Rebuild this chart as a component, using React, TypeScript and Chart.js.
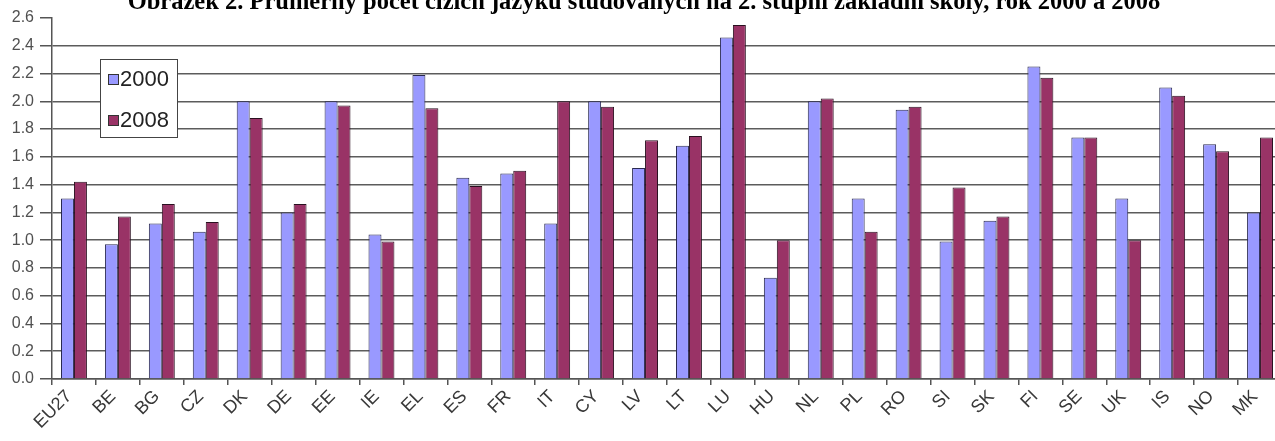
import React, { useEffect, useRef } from 'react';
import { Chart, registerables } from 'chart.js';

Chart.register(...registerables);

const titleText = 'Obrázek 2. Průměrný počet cizích jazyků studovaných na 2. stupni základní školy, rok 2000 a 2008';

const categories = ['EU27', 'BE', 'BG', 'CZ', 'DK', 'DE', 'EE', 'IE', 'EL', 'ES', 'FR', 'IT', 'CY', 'LV', 'LT', 'LU', 'HU', 'NL', 'PL', 'RO', 'SI', 'SK', 'FI', 'SE', 'UK', 'IS', 'NO', 'MK'];

const values2000 = [1.30, 0.97, 1.12, 1.06, 2.00, 1.20, 2.00, 1.04, 2.19, 1.45, 1.48, 1.12, 2.00, 1.52, 1.68, 2.46, 0.73, 2.00, 1.30, 1.94, 0.99, 1.14, 2.25, 1.74, 1.30, 2.10, 1.69, 1.20];
const values2008 = [1.42, 1.17, 1.26, 1.13, 1.88, 1.26, 1.97, 0.99, 1.95, 1.39, 1.50, 2.00, 1.96, 1.72, 1.75, 2.55, 1.00, 2.02, 1.06, 1.96, 1.38, 1.17, 2.17, 1.74, 1.00, 2.04, 1.64, 1.74];

const seriesLabels = ['2000', '2008'];
const yMin = 0;
const yMax = 2.6;
const yStep = 0.2;

const cutTitlePlugin = {
  id: 'cutTitle',
  afterDraw(chart: any, _args: any, opts: any) {
    const ctx = chart.ctx;
    ctx.save();
    ctx.font = opts.font;
    ctx.fillStyle = opts.color;
    ctx.textAlign = 'center';
    ctx.textBaseline = 'alphabetic';
    ctx.fillText(opts.text, opts.centerX, opts.baseline);
    ctx.restore();
  },
};

const boxLegendPlugin = {
  id: 'boxLegend',
  afterDraw(chart: any, _args: any, opts: any) {
    const ctx = chart.ctx;
    const area = chart.chartArea;
    const x0 = area.left + opts.offsetX;
    const y0 = area.top + opts.offsetY;
    ctx.save();
    ctx.fillStyle = '#ffffff';
    ctx.fillRect(x0, y0, opts.width, opts.height);
    ctx.strokeStyle = '#444444';
    ctx.lineWidth = 1;
    ctx.strokeRect(x0 + 0.5, y0 + 0.5, opts.width, opts.height);
    ctx.font = opts.font;
    ctx.textAlign = 'left';
    ctx.textBaseline = 'middle';
    chart.data.datasets.forEach((ds: any, i: number) => {
      const cy = y0 + opts.firstRow + i * opts.rowGap;
      const sx = x0 + opts.swatchX;
      ctx.fillStyle = ds.backgroundColor;
      ctx.fillRect(sx, cy - opts.swatch / 2, opts.swatch, opts.swatch);
      ctx.strokeStyle = '#333333';
      ctx.strokeRect(sx + 0.5, cy - opts.swatch / 2 + 0.5, opts.swatch, opts.swatch);
      ctx.fillStyle = '#222222';
      ctx.fillText(ds.label, sx + opts.swatch + 2, cy + 1);
    });
    ctx.restore();
  },
};

export default function App() {
  const canvasRef = useRef<HTMLCanvasElement | null>(null);

  useEffect(() => {
    const canvas = canvasRef.current;
    if (!canvas) return;
    const chart = new Chart(canvas, {
      type: 'bar',
      data: {
        labels: categories,
        datasets: [
          {
            label: seriesLabels[0],
            data: values2000,
            backgroundColor: '#9999ff',
            borderColor: '#2a2a50',
            borderWidth: 1,
            categoryPercentage: 0.59,
            barPercentage: 1.0,
          },
          {
            label: seriesLabels[1],
            data: values2008,
            backgroundColor: '#993366',
            borderColor: '#2a1020',
            borderWidth: 1,
            categoryPercentage: 0.59,
            barPercentage: 1.0,
          },
        ],
      },
      plugins: [cutTitlePlugin, boxLegendPlugin],
      options: {
        responsive: false,
        animation: false,
        devicePixelRatio: 1,
        layout: { padding: { top: 18, right: 8, left: 0, bottom: 0 } },
        plugins: {
          legend: { display: false },
          title: { display: false },
          tooltip: { enabled: false },
          cutTitle: {
            text: titleText,
            font: "bold 24.5px 'Liberation Serif', 'Times New Roman', serif",
            color: '#000000',
            centerX: 644,
            baseline: 9,
          },
          boxLegend: {
            offsetX: 48,
            offsetY: 41,
            width: 77,
            height: 78,
            swatchX: 8,
            swatch: 10,
            firstRow: 20,
            rowGap: 41,
            font: "22px 'Liberation Sans', Arial, sans-serif",
          },
        } as any,
        scales: {
          x: {
            afterFit: (scale: any) => {
              scale.height = 62;
            },
            grid: {
              display: true,
              offset: true,
              drawOnChartArea: false,
              drawTicks: true,
              tickLength: 6,
              tickColor: '#555555',
              lineWidth: 1.5,
            },
            border: { display: true, color: '#555555', width: 1.5 },
            ticks: {
              autoSkip: false,
              maxRotation: 45,
              minRotation: 45,
              padding: 1,
              labelOffset: -5,
              color: '#383838',
              font: { family: "'Liberation Sans', Arial, sans-serif", size: 18 },
            },
          },
          y: {
            min: yMin,
            max: yMax,
            afterFit: (scale: any) => {
              scale.width = 52;
            },
            ticks: {
              stepSize: yStep,
              padding: 6,
              color: '#505050',
              font: { family: "'Liberation Sans', Arial, sans-serif", size: 16 },
              callback: (v: any) => Number(v).toFixed(1),
            },
            grid: {
              drawTicks: true,
              tickLength: 12,
              lineWidth: 1.5,
              color: (c: any) => (c.tick && c.tick.value >= yMax - 0.001 ? 'rgba(0,0,0,0)' : '#5c5c5c'),
              tickColor: '#555555',
            },
            border: { display: true, color: '#555555', width: 1.5 },
          },
        },
      },
    });
    return () => chart.destroy();
  }, []);

  return (
    <div
      style={{
        position: 'fixed',
        left: 0,
        top: 0,
        width: 1275,
        height: 441,
        overflow: 'hidden',
        background: '#ffffff',
      }}
    >
      <canvas ref={canvasRef} width={1290} height={441} style={{ display: 'block' }} />
    </div>
  );
}
